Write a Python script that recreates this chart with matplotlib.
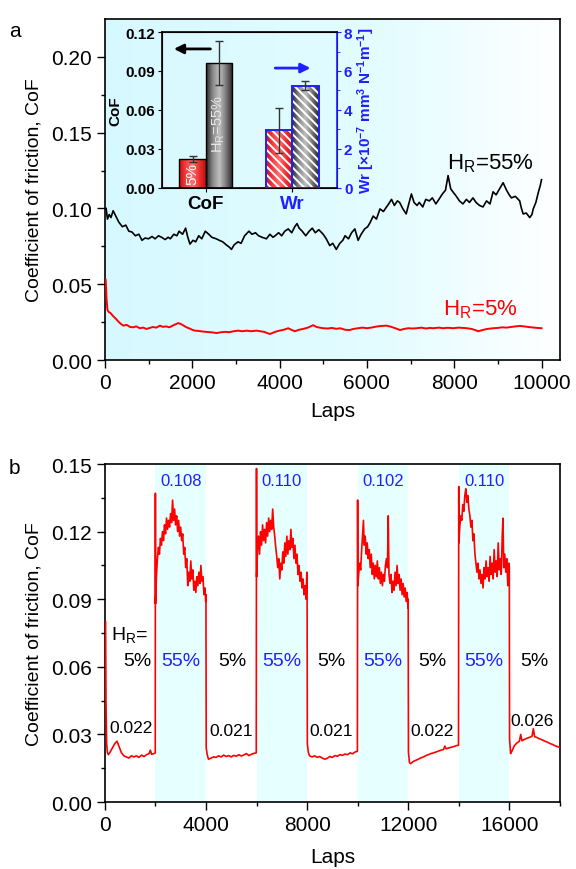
import numpy as np
import matplotlib
matplotlib.use("Agg")
import matplotlib.pyplot as plt
from matplotlib.colors import LinearSegmentedColormap

plt.rcParams['font.family'] = ['Liberation Sans', 'DejaVu Sans']
plt.rcParams['mathtext.default'] = 'regular'
plt.rcParams['hatch.linewidth'] = 1.4

# ---------------- panel a data ----------------
a_laps_55 = [30, 60, 100, 140, 190, 250, 320, 400, 480, 550, 620, 700, 780, 850, 920, 1000,
             1080, 1150, 1230, 1300, 1380, 1450, 1500, 1580, 1650, 1700, 1780, 1850, 1900,
             1950, 2020, 2080, 2150, 2220, 2300, 2380, 2450, 2550, 2620, 2700, 2780, 2850,
             2900, 2960, 3050, 3120, 3200, 3300, 3370, 3450, 3520, 3600, 3700, 3780, 3850,
             3900, 3980, 4050, 4120, 4200, 4280, 4350, 4400, 4450, 4520, 4600, 4680, 4750,
             4820, 4900, 5000, 5070, 5150, 5220, 5300, 5380, 5450, 5500, 5580, 5650, 5725,
             5800, 5870, 5950, 6020, 6080, 6145, 6220, 6300, 6380, 6450, 6500, 6565, 6630,
             6700, 6750, 6820, 6900, 6960, 7020, 7080, 7150, 7200, 7280, 7350, 7430, 7500,
             7580, 7650, 7730, 7800, 7860, 7920, 7970, 8050, 8120, 8200, 8280, 8350, 8430,
             8500, 8580, 8660, 8740, 8820, 8890, 8960, 9040, 9120, 9200, 9260, 9310, 9400,
             9500, 9540, 9580, 9650, 9730, 9780, 9810, 9870, 9930, 9970, 10000]
a_cof_55 = [0.100, 0.093, 0.096, 0.094, 0.0985, 0.095, 0.091, 0.088, 0.089, 0.085, 0.0845,
            0.082, 0.083, 0.079, 0.0805, 0.080, 0.0815, 0.080, 0.082, 0.081, 0.0795, 0.081,
            0.080, 0.083, 0.082, 0.085, 0.083, 0.087, 0.081, 0.0765, 0.079, 0.078, 0.082,
            0.080, 0.085, 0.083, 0.081, 0.080, 0.079, 0.078, 0.076, 0.0745, 0.073, 0.076,
            0.078, 0.077, 0.082, 0.085, 0.083, 0.084, 0.082, 0.081, 0.080, 0.083, 0.081,
            0.082, 0.084, 0.082, 0.085, 0.0865, 0.084, 0.088, 0.090, 0.087, 0.085, 0.082,
            0.085, 0.087, 0.084, 0.086, 0.083, 0.080, 0.0755, 0.077, 0.073, 0.077, 0.079,
            0.082, 0.080, 0.084, 0.0865, 0.079, 0.083, 0.0865, 0.088, 0.091, 0.095, 0.093,
            0.0997, 0.098, 0.101, 0.103, 0.106, 0.102, 0.105, 0.104, 0.100, 0.0964, 0.103,
            0.1096, 0.104, 0.102, 0.104, 0.101, 0.106, 0.105, 0.107, 0.103, 0.106, 0.1096,
            0.112, 0.1217, 0.113, 0.111, 0.108, 0.105, 0.103, 0.106, 0.104, 0.107, 0.104,
            0.102, 0.101, 0.105, 0.103, 0.111, 0.109, 0.113, 0.117, 0.112, 0.109, 0.107,
            0.108, 0.105, 0.100, 0.0964, 0.097, 0.094, 0.096, 0.0997, 0.104, 0.111, 0.115,
            0.119]

a_laps_5 = [20, 40, 60, 90, 130, 190, 260, 340, 420, 500, 580, 650, 720, 800, 880, 950, 1030,
            1100, 1180, 1260, 1330, 1400, 1480, 1560, 1620, 1680, 1740, 1800, 1870, 1940,
            2000, 2060, 2150, 2250, 2350, 2450, 2560, 2650, 2750, 2850, 2950, 3050, 3150,
            3250, 3350, 3470, 3560, 3650, 3700, 3780, 3850, 3920, 4000, 4100, 4200, 4270,
            4350, 4450, 4550, 4650, 4770, 4850, 4920, 5000, 5100, 5200, 5300, 5390, 5500,
            5600, 5690, 5800, 5900, 6000, 6100, 6200, 6300, 6450, 6550, 6650, 6760, 6850,
            6950, 7050, 7140, 7250, 7350, 7450, 7520, 7650, 7750, 7850, 7980, 8100, 8200,
            8290, 8400, 8480, 8550, 8650, 8750, 8900, 9000, 9100, 9200, 9300, 9400, 9510,
            9600, 9700, 9800, 9900, 10000]
a_cof_5 = [0.053, 0.040, 0.033, 0.0317, 0.031, 0.029, 0.027, 0.0245, 0.0227, 0.0232, 0.0218,
           0.0216, 0.0222, 0.0210, 0.0214, 0.0205, 0.0212, 0.0218, 0.0214, 0.0227, 0.0219,
           0.0222, 0.0216, 0.0228, 0.0236, 0.0244, 0.0238, 0.0228, 0.0216, 0.0208, 0.0200,
           0.0194, 0.0192, 0.0188, 0.0185, 0.0183, 0.0178, 0.0183, 0.0186, 0.0184, 0.0190,
           0.0194, 0.0190, 0.0194, 0.0190, 0.0194, 0.0190, 0.0186, 0.0180, 0.0172, 0.0180,
           0.0188, 0.0194, 0.0200, 0.0210, 0.0200, 0.0190, 0.0200, 0.0206, 0.0214, 0.0230,
           0.0218, 0.0214, 0.0210, 0.0208, 0.0212, 0.0206, 0.0210, 0.0200, 0.0198, 0.0205,
           0.0210, 0.0214, 0.0210, 0.0214, 0.0220, 0.0224, 0.0227, 0.0220, 0.0210, 0.0198,
           0.0205, 0.0210, 0.0208, 0.0210, 0.0214, 0.0208, 0.0212, 0.0210, 0.0214, 0.0210,
           0.0213, 0.0210, 0.0214, 0.0212, 0.0210, 0.0205, 0.0198, 0.0190, 0.0198, 0.0205,
           0.0210, 0.0212, 0.0216, 0.0214, 0.0218, 0.0222, 0.0225, 0.0222, 0.0218, 0.0215,
           0.0212, 0.0210]

# inset bars
inset_groups = ['CoF', 'Wr']
inset_cof = [0.022, 0.096]
inset_cof_err = [0.0025, 0.017]
inset_wr = [2.95, 5.25]
inset_wr_err = [1.15, 0.25]

# ---------------- panel b data ----------------
b_laps_1 = [30, 45, 70, 100, 140, 200, 300, 400, 480, 550, 650, 750, 850, 950, 1050, 1150,
            1250, 1350, 1450, 1550, 1650, 1750, 1800, 1850, 1950, 1995]
b_cof_1 = [0.080, 0.045, 0.026, 0.022, 0.021, 0.022, 0.024, 0.026, 0.027, 0.025, 0.022,
           0.0205, 0.020, 0.0195, 0.0205, 0.020, 0.0205, 0.0198, 0.0208, 0.0202, 0.021,
           0.0215, 0.023, 0.0212, 0.0215, 0.0218]
b_laps_2 = [2000, 2005, 2040, 2080, 2120, 2160, 2200, 2240, 2280, 2320, 2360, 2400, 2440,
            2480, 2520, 2560, 2600, 2640, 2680, 2720, 2760, 2800, 2840, 2880, 2920, 2960,
            3000, 3040, 3080, 3120, 3160, 3200, 3240, 3280, 3320, 3360, 3400, 3440, 3480,
            3520, 3560, 3600, 3640, 3680, 3720, 3760, 3800, 3840, 3880, 3920, 3960, 3990, 4000]
b_cof_2 = [0.137, 0.088, 0.100, 0.108, 0.113, 0.110, 0.117, 0.114, 0.120, 0.116, 0.123,
           0.119, 0.126, 0.121, 0.125, 0.122, 0.128, 0.124, 0.134, 0.125, 0.130, 0.123,
           0.127, 0.120, 0.125, 0.118, 0.122, 0.116, 0.119, 0.110, 0.113, 0.104, 0.108,
           0.096, 0.102, 0.098, 0.107, 0.099, 0.103, 0.094, 0.098, 0.093, 0.100, 0.096,
           0.102, 0.097, 0.105, 0.098, 0.100, 0.092, 0.095, 0.089, 0.092]
b_laps_3 = [4010, 4050, 4100, 4200, 4300, 4400, 4500, 4600, 4700, 4800, 4900, 5000, 5100,
            5200, 5300, 5400, 5500, 5600, 5700, 5800, 5900, 5990]
b_cof_3 = [0.024, 0.021, 0.019, 0.0195, 0.020, 0.0198, 0.0205, 0.0200, 0.0208, 0.0202,
           0.0206, 0.0200, 0.0207, 0.0203, 0.0210, 0.0204, 0.0209, 0.0215, 0.0206, 0.0212,
           0.0216, 0.0218]
b_laps_4 = [6000, 6005, 6040, 6080, 6120, 6160, 6200, 6240, 6280, 6320, 6360, 6400, 6440,
            6480, 6520, 6560, 6600, 6640, 6680, 6720, 6760, 6800, 6840, 6880, 6920, 6960,
            7000, 7040, 7080, 7120, 7160, 7200, 7240, 7280, 7320, 7360, 7400, 7440, 7480,
            7520, 7560, 7600, 7640, 7680, 7720, 7760, 7800, 7840, 7880, 7920, 7960, 7990, 8000]
b_cof_4 = [0.148, 0.100, 0.112, 0.118, 0.110, 0.120, 0.114, 0.123, 0.116, 0.121, 0.115,
           0.124, 0.118, 0.126, 0.120, 0.125, 0.121, 0.130, 0.122, 0.118, 0.113, 0.109,
           0.104, 0.108, 0.099, 0.106, 0.103, 0.111, 0.106, 0.115, 0.109, 0.118, 0.110,
           0.116, 0.112, 0.121, 0.113, 0.117, 0.108, 0.114, 0.106, 0.110, 0.101, 0.105,
           0.098, 0.102, 0.095, 0.099, 0.092, 0.096, 0.090, 0.102, 0.100]
b_laps_5 = [8010, 8050, 8100, 8200, 8300, 8400, 8500, 8600, 8700, 8800, 8900, 9000, 9100,
            9200, 9300, 9400, 9500, 9600, 9700, 9800, 9900, 9990]
b_cof_5 = [0.026, 0.022, 0.0205, 0.0200, 0.0205, 0.0198, 0.0202, 0.0195, 0.0190, 0.0194,
           0.0202, 0.0198, 0.0206, 0.0203, 0.0210, 0.0207, 0.0213, 0.0210, 0.0218, 0.0214,
           0.0222, 0.0225]
b_laps_6 = [10000, 10005, 10040, 10080, 10120, 10160, 10200, 10230, 10260, 10300, 10340,
            10380, 10420, 10460, 10500, 10540, 10580, 10620, 10660, 10700, 10740, 10780,
            10820, 10860, 10900, 10940, 10980, 11020, 11060, 11100, 11140, 11180, 11210,
            11240, 11280, 11320, 11360, 11400, 11440, 11480, 11520, 11560, 11600, 11640,
            11680, 11720, 11760, 11800, 11840, 11880, 11920, 11960, 11990, 12000]
b_cof_6 = [0.134, 0.096, 0.101, 0.106, 0.103, 0.112, 0.119, 0.125, 0.114, 0.118, 0.110,
           0.115, 0.108, 0.112, 0.104, 0.110, 0.101, 0.106, 0.099, 0.105, 0.100, 0.107,
           0.099, 0.104, 0.097, 0.102, 0.096, 0.101, 0.098, 0.105, 0.108, 0.104, 0.127,
           0.101, 0.097, 0.101, 0.093, 0.098, 0.094, 0.102, 0.096, 0.105, 0.097, 0.101,
           0.094, 0.099, 0.092, 0.097, 0.091, 0.095, 0.089, 0.093, 0.086, 0.090]
b_laps_7 = [12010, 12050, 12100, 12200, 12300, 12400, 12500, 12600, 12700, 12800, 12900,
            13000, 13100, 13200, 13300, 13400, 13450, 13500, 13600, 13700, 13800, 13900, 13990]
b_cof_7 = [0.022, 0.0175, 0.0170, 0.0180, 0.0185, 0.0190, 0.0196, 0.0200, 0.0206, 0.0210,
           0.0215, 0.0218, 0.0222, 0.0226, 0.0230, 0.0233, 0.0248, 0.0236, 0.0240, 0.0243,
           0.0246, 0.0250, 0.0252]
b_laps_8 = [14000, 14005, 14040, 14080, 14120, 14160, 14200, 14240, 14280, 14320, 14360,
            14400, 14440, 14480, 14520, 14560, 14600, 14640, 14680, 14720, 14760, 14800,
            14840, 14880, 14920, 14960, 15000, 15040, 15080, 15120, 15160, 15200, 15240,
            15280, 15320, 15360, 15400, 15440, 15480, 15520, 15560, 15600, 15640, 15680,
            15720, 15750, 15780, 15820, 15860, 15900, 15940, 15980, 16000]
b_cof_8 = [0.140, 0.115, 0.122, 0.127, 0.125, 0.132, 0.129, 0.136, 0.139, 0.133, 0.136,
           0.130, 0.127, 0.122, 0.125, 0.116, 0.119, 0.110, 0.106, 0.102, 0.106, 0.099,
           0.103, 0.097, 0.101, 0.095, 0.104, 0.099, 0.107, 0.100, 0.104, 0.098, 0.109,
           0.101, 0.106, 0.099, 0.112, 0.102, 0.107, 0.100, 0.115, 0.103, 0.108, 0.101,
           0.118, 0.126, 0.104, 0.110, 0.102, 0.108, 0.096, 0.106, 0.104]
b_laps_9 = [16010, 16050, 16100, 16200, 16300, 16400, 16450, 16500, 16600, 16700, 16800,
            16900, 16950, 17000, 17100, 17200, 17300, 17400, 17500, 17600, 17700, 17800,
            17900, 18000]
b_cof_9 = [0.028, 0.0215, 0.0225, 0.0250, 0.0262, 0.0270, 0.0300, 0.0272, 0.0278, 0.0283,
           0.0287, 0.0292, 0.0325, 0.0290, 0.0286, 0.0280, 0.0276, 0.0270, 0.0266, 0.0260,
           0.0256, 0.0250, 0.0246, 0.0242]

b_wet_spans = [(2000, 4000), (6000, 8000), (10000, 12000), (14000, 16000)]
b_peak_labels = ['0.108', '0.110', '0.102', '0.110']
b_low_labels = ['0.022', '0.021', '0.021', '0.022', '0.026']
b_low_x = [1030, 5010, 8960, 12950, 16900]
b_low_y = [0.0329, 0.0317, 0.0317, 0.0317, 0.036]
b_dry_x = [1280, 5050, 8960, 12950, 16980]

blue = '#1f1fff'

fig = plt.figure(figsize=(5.76, 8.7), dpi=100)

# ================= panel a =================
ax1 = fig.add_axes([0.182, 0.585, 0.790, 0.392])
bg = LinearSegmentedColormap.from_list('bg', [(0.0, (0.84, 0.975, 1.0)), (0.6, (0.89, 0.99, 1.0)),
                                              (1.0, (1, 1, 1))])
ax1.imshow(np.linspace(0, 1, 256).reshape(1, -1), extent=[0, 1, 0, 1], transform=ax1.transAxes,
           cmap=bg, aspect='auto', zorder=0)
ax1.plot(a_laps_55, a_cof_55, color='black', lw=1.2, zorder=3)
ax1.plot(a_laps_5, a_cof_5, color='red', lw=1.4, zorder=3)
ax1.set_xlim(0, 10420)
ax1.set_ylim(0, 0.225)
ax1.set_xticks(range(0, 10001, 2000))
ax1.set_xticks(range(1000, 10000, 2000), minor=True)
ax1.set_yticks([0, 0.05, 0.10, 0.15, 0.20])
ax1.set_yticks([0.025, 0.075, 0.125, 0.175], minor=True)
ax1.set_yticklabels(['0.00', '0.05', '0.10', '0.15', '0.20'])
ax1.set_xlabel('Laps', fontsize=15, labelpad=6)
ax1.set_ylabel('Coefficient of friction, CoF', fontsize=14, labelpad=6)
ax1.text(8820, 0.130, 'H$_R$=55%', fontsize=16, ha='center', va='center')
ax1.text(8590, 0.034, 'H$_R$=5%', fontsize=16, ha='center', va='center', color='red')
fig.text(0.015, 0.958, 'a', fontsize=15)

# ---- inset ----
axin = fig.add_axes([0.281, 0.783, 0.304, 0.179])
axin.patch.set_alpha(0)
axw = axin.twinx()

red_cmap = LinearSegmentedColormap.from_list('r', ['#c81010', '#f24040', '#ff7070', '#f03030', '#c01010'])
gray_cmap = LinearSegmentedColormap.from_list('g', ['#2a2a2a', '#8a8a8a', '#c0c0c0', '#7a7a7a', '#252525'])


def shade(ax, bar, cmap):
    x0, y0 = bar.get_x(), bar.get_y()
    im = ax.imshow(np.linspace(0, 1, 64).reshape(1, -1),
                   extent=[x0, x0 + bar.get_width(), y0, y0 + bar.get_height()],
                   cmap=cmap, aspect='auto', zorder=2)
    im.set_clip_path(bar)


bars_c = axin.bar([1.17, 2.17], inset_cof, width=1.0, color='none', edgecolor='black', lw=1.0, zorder=3)
shade(axin, bars_c[0], red_cmap)
shade(axin, bars_c[1], gray_cmap)
axin.errorbar([1.17, 2.17], inset_cof, yerr=inset_cof_err, fmt='none', ecolor='#333333',
              elinewidth=1, capsize=3, zorder=4)

bars_w = axw.bar([4.45, 5.45], inset_wr, width=1.0, color='none', edgecolor='white', hatch='\\\\\\\\',
                 lw=0, zorder=3)
shade(axw, bars_w[0], red_cmap)
shade(axw, bars_w[1], gray_cmap)
axw.bar([4.45, 5.45], inset_wr, width=1.0, color='none', edgecolor=blue, lw=1.4, zorder=4)
axw.errorbar([4.45, 5.45], inset_wr, yerr=inset_wr_err, fmt='none', ecolor='#333333',
             elinewidth=1, capsize=3, zorder=5)

axin.set_xlim(0, 6.65)
axin.set_ylim(0, 0.12)
axw.set_ylim(0, 8)
axin.set_yticks([0, 0.03, 0.06, 0.09, 0.12])
axin.set_yticklabels(['0.00', '0.03', '0.06', '0.09', '0.12'], fontsize=11, fontweight='bold')
axw.set_yticks([0, 2, 4, 6, 8])
axw.set_yticks([1, 3, 5, 7], minor=True)
axw.set_yticklabels(['0', '2', '4', '6', '8'], fontsize=11, fontweight='bold', color=blue)
axin.set_xticks([1.67, 4.95])
axin.set_xticklabels(inset_groups, fontsize=13.5, fontweight='bold')
axin.get_xticklabels()[1].set_color(blue)
axin.tick_params(axis='x', length=3, pad=2)
axin.tick_params(axis='y', length=3, pad=2)
axw.tick_params(axis='y', which='both', colors=blue, length=3, pad=2)
axw.tick_params(axis='y', which='minor', length=2)
axw.spines['right'].set_color(blue)
for sp in axw.spines.values():
    sp.set_linewidth(1.2)
axin.set_ylabel('CoF', fontsize=11, fontweight='bold', labelpad=2)
axw.set_ylabel('Wr [×10$^{-7}$ mm$^3$ N$^{-1}$m$^{-1}$]', fontsize=11, fontweight='bold',
               color=blue, labelpad=2)
axin.text(1.17, 0.003, '5%', rotation=90, color='white', fontsize=11, ha='center', va='bottom', zorder=6)
axin.text(2.17, 0.05, 'H$_R$=55%', rotation=90, color='#e8e8e8', fontsize=10.5, ha='center',
          va='center', zorder=6)
axin.annotate('', xy=(0.35, 0.107), xytext=(1.95, 0.107),
              arrowprops=dict(arrowstyle='-|>', color='black', lw=2, mutation_scale=14), zorder=6)
axw.annotate('', xy=(5.75, 6.15), xytext=(4.2, 6.15),
             arrowprops=dict(arrowstyle='-|>', color=blue, lw=2, mutation_scale=14), zorder=6)

# ================= panel b =================
ax2 = fig.add_axes([0.182, 0.077, 0.790, 0.3885])
for (s, e) in b_wet_spans:
    ax2.axvspan(s, e, color=(0.90, 1.0, 1.0), lw=0, zorder=0)
b_laps = np.concatenate([b_laps_1, b_laps_2, b_laps_3, b_laps_4, b_laps_5,
                         b_laps_6, b_laps_7, b_laps_8, b_laps_9])
b_cof = np.concatenate([b_cof_1, b_cof_2, b_cof_3, b_cof_4, b_cof_5,
                        b_cof_6, b_cof_7, b_cof_8, b_cof_9])
ax2.plot(b_laps, b_cof, color='red', lw=1.2, zorder=3)
ax2.set_xlim(0, 18000)
ax2.set_ylim(0, 0.15)
ax2.set_xticks(range(0, 16001, 4000))
ax2.set_xticks(range(2000, 18001, 4000), minor=True)
ax2.set_yticks([0, 0.03, 0.06, 0.09, 0.12, 0.15])
ax2.set_yticks([0.015, 0.045, 0.075, 0.105, 0.135], minor=True)
ax2.set_yticklabels(['0.00', '0.03', '0.06', '0.09', '0.12', '0.15'])
ax2.set_xlabel('Laps', fontsize=15, labelpad=9)
ax2.set_ylabel('Coefficient of friction, CoF', fontsize=14, labelpad=6)
for (s, e), lab in zip(b_wet_spans, b_peak_labels):
    ax2.text((s + e) / 2, 0.1425, lab, color=blue, fontsize=12, ha='center', va='center')
    ax2.text((s + e) / 2, 0.0626, '55%', color=blue, fontsize=14, ha='center', va='center')
for x in b_dry_x:
    ax2.text(x, 0.0626, '5%', color='black', fontsize=14, ha='center', va='center')
for x, y, lab in zip(b_low_x, b_low_y, b_low_labels):
    ax2.text(x, y, lab, color='black', fontsize=12.5, ha='center', va='center')
ax2.text(250, 0.0745, 'H$_R$=', fontsize=14, ha='left', va='center')
fig.text(0.015, 0.455, 'b', fontsize=15)

for ax in (ax1, ax2):
    ax.tick_params(axis='both', which='major', labelsize=15, length=6, width=1, direction='out')
    ax.tick_params(axis='both', which='minor', length=3, width=1, direction='out')
    for sp in ax.spines.values():
        sp.set_linewidth(1.2)

fig.savefig('out.png', dpi=100)
